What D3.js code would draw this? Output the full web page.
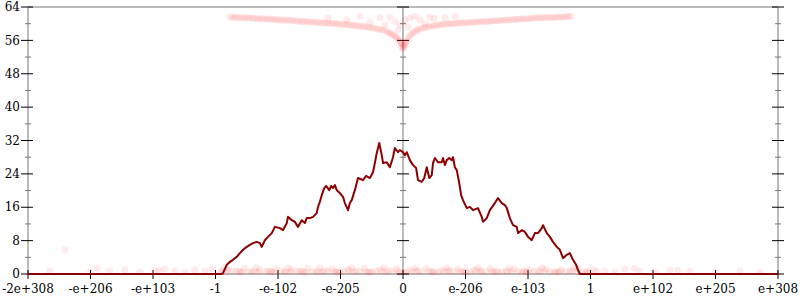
<!DOCTYPE html>
<html>
<head>
<meta charset="utf-8">
<script src="https://cdn.jsdelivr.net/npm/d3@7"></script>
<style>
  body { margin: 0; background: #fff; }
  text { font-family: "DejaVu Serif", serif; font-size: 12px; fill: #000; }
  .frame { stroke: #bbb; stroke-width: 2; fill: none; }
  .major { stroke: #000; stroke-width: 1; }
  .minor { stroke: #777; stroke-width: 1; }
  .line { fill: none; stroke: #8b0000; stroke-width: 2; stroke-linejoin: round; }
  .dot { fill: red; fill-opacity: 0.08; stroke: none; }
</style>
</head>
<body>
<div id="chart-container"></div>
<script>
// x positions are in ordered-float units: -6 (-2e+308) .. 0 .. 6 (e+308)
const xLabels = ["-2e+308", "-e+206", "-e+103", "-1", "-e-102", "-e-205", "0",
                 "e-206", "e-103", "1", "e+102", "e+205", "e+308"]
const xTicks = [-6, -5, -4, -3, -2, -1, 0, 1, 2, 3, 4, 5, 6]
const yTicks = [0, 8, 16, 24, 32, 40, 48, 56, 64]
const yMinor = [4, 12, 20, 28, 36, 44, 52, 60]

// histogram line
const histX = [-6, -2.9, -2.88, -2.82, -2.77, -2.72, -2.66, -2.61, -2.56, -2.5, -2.45, -2.4, -2.34, -2.29,
  -2.26, -2.21, -2.16, -2.1, -2.05, -1.97, -1.92, -1.86, -1.84, -1.78, -1.73, -1.68, -1.62, -1.57,
  -1.54, -1.49, -1.44, -1.38, -1.36, -1.33, -1.3, -1.26, -1.23, -1.18, -1.15, -1.12, -1.09, -1.06,
  -1.01, -0.96, -0.93, -0.88, -0.85, -0.82, -0.77, -0.72, -0.64, -0.59, -0.53, -0.48, -0.45, -0.42,
  -0.38, -0.34, -0.32, -0.26, -0.21, -0.16, -0.13, -0.08, -0.05, 0,
  0.03, 0.06, 0.11, 0.16, 0.21, 0.24, 0.3, 0.34, 0.38, 0.42, 0.46, 0.48, 0.51, 0.56, 0.62, 0.64,
  0.67, 0.7, 0.74, 0.78, 0.8, 0.83, 0.86, 0.9, 0.93, 0.96, 1.02, 1.07, 1.12, 1.2, 1.26, 1.28, 1.34,
  1.39, 1.47, 1.52, 1.58, 1.63, 1.66, 1.71, 1.76, 1.82, 1.84, 1.9, 1.95, 2.0, 2.06, 2.11, 2.16,
  2.22, 2.24, 2.3, 2.35, 2.4, 2.46, 2.51, 2.56, 2.62, 2.67, 2.72, 2.77, 2.8, 2.83, 6]
const histY = [0, 0, 0.2, 2.2, 2.9, 3.4, 4.1, 5.0, 5.8, 6.5, 7.0, 7.4, 7.7, 7.4,
  6.5, 8.1, 8.9, 9.8, 11.3, 11.0, 10.5, 12.2, 13.7, 12.9, 12.5, 11.3, 12.9, 12.2,
  13.4, 13.4, 13.7, 14.6, 16.1, 17.3, 18.9, 20.6, 21.1, 20.1, 21.1, 20.6, 21.3, 20.1,
  19.4, 18.5, 17.0, 15.3, 17.0, 17.7, 20.1, 23.0, 22.5, 23.5, 23.0, 24.4, 26.6, 29.0,
  31.4, 28.5, 26.6, 26.8, 25.6, 28.0, 30.2, 29.2, 29.7, 29.2,
  28.5, 29.2, 27.3, 26.1, 25.4, 22.5, 22.1, 23.0, 25.6, 23.0, 23.7, 26.6, 27.8, 26.8, 26.8, 27.8,
  26.1, 27.3, 27.8, 27.3, 28.0, 25.6, 24.9, 21.8, 18.9, 17.7, 15.8, 16.1, 15.3, 15.8, 13.7, 12.5, 13.4,
  15.3, 17.0, 18.2, 17.0, 16.5, 15.8, 13.4, 11.7, 11.3, 9.8, 10.5, 10.1, 8.9, 8.1, 9.8,
  9.8, 11.0, 11.7, 9.8, 8.9, 7.7, 6.5, 5.8, 3.8, 4.6, 5.0, 3.4, 2.2, 1.0, 0, 0]

// faint scatter: upper V-shaped band
const topX = [-2.77, -2.69, -2.61, -2.53, -2.45, -2.37, -2.29, -2.21, -2.13, -2.05, -1.97, -1.89,
  -1.81, -1.73, -1.65, -1.57, -1.49, -1.41, -1.33, -1.25, -1.17, -1.09, -1.01, -0.93, -0.85,
  -0.77, -0.69, -0.61, -0.53, -0.45, -0.37, -0.29, -0.22, -0.16, -0.11, -0.06, -0.03, 0,
  0.03, 0.06, 0.11, 0.16, 0.22, 0.29, 0.37, 0.45, 0.53, 0.61, 0.69, 0.77, 0.85, 0.93, 1.01,
  1.09, 1.17, 1.25, 1.33, 1.41, 1.49, 1.57, 1.65, 1.73, 1.81, 1.89, 1.97, 2.05, 2.13, 2.21,
  2.29, 2.37, 2.45, 2.53, 2.61, 2.69,
  -2.73, -2.65, -2.57, -2.49, -2.41, -2.33, -2.25, -2.17, -2.09, -2.01, -1.93, -1.85, -1.77,
  -1.69, -1.61, -1.53, -1.45, -1.37, -1.29, -1.21, -1.13, -1.05, -0.97, -0.89, -0.81, -0.73,
  -0.65, -0.57, -0.49, -0.41, -0.33, -0.25, -0.19, -0.13, -0.08, -0.04,
  0.04, 0.08, 0.13, 0.19, 0.25, 0.33, 0.41, 0.49, 0.57, 0.65, 0.73, 0.81, 0.89, 0.97, 1.05,
  1.13, 1.21, 1.29, 1.37, 1.45, 1.53, 1.61, 1.69, 1.77, 1.85, 1.93, 2.01, 2.09, 2.17, 2.25,
  2.33, 2.41, 2.49, 2.57, 2.65,
  -0.53, -0.37, -0.21, -0.13, -0.05, 0.03, 0.11, 0.19, 0.27, 0.43, 0.67, -0.29, 0.08, -0.08,
  -0.69, 0.83, -0.02, 0.01, -0.01, 0.02, -1.2, -0.9, 0.5, 0.35]
const topY = [61.6, 61.6, 61.5, 61.4, 61.4, 61.3, 61.2, 61.1, 61.1, 61.0, 60.9, 60.9,
  60.8, 60.7, 60.6, 60.5, 60.4, 60.4, 60.3, 60.2, 60.1, 60.0, 59.9, 59.8, 59.7,
  59.6, 59.4, 59.3, 59.1, 58.9, 58.6, 58.3, 57.8, 57.3, 56.8, 56.0, 55.3, 54.5,
  55.0, 55.9, 57.0, 57.8, 58.4, 58.8, 59.1, 59.4, 59.6, 59.8, 59.9, 60.0, 60.1, 60.2, 60.2,
  60.3, 60.4, 60.5, 60.5, 60.6, 60.7, 60.8, 60.9, 60.9, 61.0, 61.1, 61.2, 61.3, 61.4, 61.4,
  61.5, 61.5, 61.6, 61.6, 61.7, 61.7,
  61.5, 61.5, 61.4, 61.4, 61.3, 61.2, 61.2, 61.1, 61.0, 61.0, 60.9, 60.8, 60.8,
  60.6, 60.5, 60.5, 60.4, 60.3, 60.2, 60.1, 60.1, 60.0, 59.8, 59.8, 59.6, 59.5,
  59.3, 59.2, 59.0, 58.7, 58.5, 58.0, 57.6, 57.0, 56.4, 55.6,
  55.4, 56.4, 57.4, 58.1, 58.6, 59.0, 59.3, 59.5, 59.7, 59.9, 60.0, 60.0, 60.2, 60.2, 60.3,
  60.4, 60.4, 60.5, 60.6, 60.7, 60.7, 60.8, 60.9, 61.0, 61.1, 61.1, 61.2, 61.3, 61.4, 61.4,
  61.5, 61.5, 61.6, 61.6, 61.7,
  60.4, 61.4, 61.6, 60.4, 59.7, 60.9, 61.4, 61.8, 60.9, 61.6, 61.4, 59.7, 59.2, 58.5,
  61.8, 61.8, 54.2, 54.0, 55.0, 54.8, 61.3, 60.9, 61.3, 60.0]

// faint scatter: lower band just above zero
const lowX = [-5.65, -5.41, -5.01, -4.69, -4.45, -4.21, -3.97, -3.81, -3.65, -3.49, -3.33, -3.17,
  -3.06, -2.93, -2.8, -2.67, -2.54, -2.42, -2.29, -2.16, -2.03, -1.9, -1.78, -1.65, -1.52,
  -1.39, -1.26, -1.14, -1.01, -0.88, -0.75, -0.62, -0.5, -0.37, -0.24, -0.11, 0, 0.11, 0.24,
  0.37, 0.5, 0.62, 0.75, 0.88, 1.01, 1.14, 1.26, 1.39, 1.52, 1.65, 1.78, 1.9, 2.03, 2.16,
  2.29, 2.42, 2.54, 2.67, 2.8, 2.93, 3.06, 3.23, 3.39, 3.55, 3.79, 4.03, 4.27, 4.59, 4.99, 5.39, 5.71,
  -2.86, -2.6, -2.35, -2.1, -1.84, -1.59, -1.33, -1.07, -0.82, -0.56, -0.3, -0.05, 0.2, 0.45,
  0.7, 0.95, 1.2, 1.45, 1.7, 1.96, 2.22, 2.48, 2.74, 2.99, -4.9, -3.9, 3.7, 4.4,
  -2.9, -2.83, -2.74, -2.63, -2.57, -2.47, -2.38, -2.31, -2.2, -2.12, -2.06, -1.95, -1.87,
  -1.8, -1.7, -1.62, -1.55, -1.45, -1.36, -1.29, -1.2, -1.1, -1.04, -0.95, -0.86, -0.79,
  -0.69, -0.6, -0.53, -0.43, -0.34, -0.27, -0.17, -0.08, 0.05, 0.14, 0.21, 0.3, 0.41, 0.48,
  0.57, 0.66, 0.73, 0.83, 0.92, 0.99, 1.08, 1.17, 1.24, 1.33, 1.42, 1.49, 1.58, 1.67, 1.74,
  1.84, 1.93, 1.99, 2.09, 2.19, 2.26, 2.35, 2.44, 2.51, 2.6, 2.7, 2.78, 2.86, 2.95, 3.1]
const lowY = [0.7, 5.8, 0.5, 0.7, 1.0, 0.5, 0.7, 1.2, 0.7, 0.5, 1.0, 0.7,
  1.2, 0.5, 1.0, 0.7, 1.4, 0.5, 1.0, 0.7, 1.2, 0.5, 1.0, 0.7, 1.4,
  0.5, 0.7, 1.2, 0.5, 1.0, 0.7, 1.4, 0.5, 1.0, 0.7, 1.2, 0.5, 1.0, 0.7,
  1.4, 0.5, 1.0, 0.7, 1.2, 0.5, 1.0, 0.7, 1.4, 0.5, 0.7, 1.2, 0.5, 1.0, 0.7,
  1.2, 0.5, 1.0, 0.7, 1.4, 0.5, 1.0, 0.7, 0.5, 1.2, 0.7, 0.5, 1.0, 0.7, 0.5, 0.7, 0.5,
  1.5, 0.4, 1.5, 0.4, 1.5, 0.4, 1.5, 0.4, 1.5, 0.4, 1.5, 0.4, 1.5, 0.4,
  1.5, 0.4, 1.5, 0.4, 1.5, 0.4, 1.5, 0.4, 1.5, 0.4, 1.4, 0.9, 1.3, 0.9,
  0.6, 0.5, 0.7, 0.6, 0.5, 0.6, 0.7, 0.5, 0.6, 0.6, 0.5, 0.7, 0.6,
  0.5, 0.6, 0.7, 0.5, 0.6, 0.6, 0.5, 0.7, 0.6, 0.5, 0.6, 0.7, 0.5,
  0.6, 0.6, 0.5, 0.7, 0.6, 0.5, 0.6, 0.7, 0.5, 0.6, 0.6, 0.5, 0.7, 0.6,
  0.5, 0.6, 0.7, 0.5, 0.6, 0.6, 0.5, 0.7, 0.6, 0.5, 0.6, 0.7, 0.5, 0.6, 0.6,
  0.5, 0.7, 0.6, 0.5, 0.6, 0.7, 0.5, 0.6, 0.6, 0.5, 0.7, 0.6, 0.5, 0.6, 0.5, 0.6]

const margin = {top: 7, right: 22, bottom: 26, left: 28}
const width = 800 - margin.left - margin.right
const height = 300 - margin.top - margin.bottom

const svg = d3.select('#chart-container')
  .append('svg')
  .attr('width', 800)
  .attr('height', 300)
  .append('g')
  .attr('transform', `translate(${margin.left}, ${margin.top})`)

const x = d3.scaleLinear().domain([-6, 6]).range([0, width])
const y = d3.scaleLinear().domain([0, 64]).range([height, 0])

// frame: top line, baseline, left / center / right verticals
svg.append('line').attr('class', 'frame')
  .attr('x1', x(-6)).attr('x2', x(6)).attr('y1', y(64)).attr('y2', y(64))
svg.append('line').attr('class', 'frame')
  .attr('x1', x(-6)).attr('x2', x(6)).attr('y1', y(0)).attr('y2', y(0))
;[-6, 0, 6].forEach(v => {
  svg.append('line').attr('class', 'frame')
    .attr('x1', x(v)).attr('x2', x(v)).attr('y1', y(0)).attr('y2', y(64))
})

// vertical-axis ticks
const vx = [{v: -6, l: 7, r: 5}, {v: 0, l: 6, r: 6}, {v: 6, l: 6, r: 6}]
vx.forEach(a => {
  svg.append('g').selectAll('line.major').data(yTicks).join('line')
    .attr('class', 'major')
    .attr('x1', x(a.v) - a.l).attr('x2', x(a.v) + a.r)
    .attr('y1', d => y(d)).attr('y2', d => y(d))
  svg.append('g').selectAll('line.minor').data(yMinor).join('line')
    .attr('class', 'minor')
    .attr('x1', x(a.v) - 3).attr('x2', x(a.v) + 3)
    .attr('y1', d => y(d)).attr('y2', d => y(d))
})

svg.append('g').selectAll('text').data(yTicks).join('text')
  .attr('x', x(-6) - 8).attr('y', d => y(d))
  .attr('dy', '0.35em')
  .attr('text-anchor', 'end')
  .text(d => d)

// x ticks cross the baseline
svg.append('g').selectAll('line').data(xTicks).join('line')
  .attr('class', 'major')
  .attr('x1', d => x(d)).attr('x2', d => x(d))
  .attr('y1', y(0) - 4).attr('y2', y(0) + 5)

svg.append('g').selectAll('text').data(xTicks).join('text')
  .attr('x', d => x(d)).attr('y', y(0) + 19)
  .attr('text-anchor', 'middle')
  .text((d, i) => xLabels[i])

// faint scatter
const dots = topX.map((d, i) => [d, topY[i]]).concat(lowX.map((d, i) => [d, lowY[i]]))
svg.append('g').selectAll('circle').data(dots).join('circle')
  .attr('class', 'dot')
  .attr('cx', d => x(d[0]))
  .attr('cy', d => y(d[1]))
  .attr('r', 3.5)

// histogram line
const line = d3.line()
  .x(d => x(d[0]))
  .y(d => y(d[1]))

svg.append('path')
  .datum(histX.map((d, i) => [d, histY[i]]))
  .attr('class', 'line')
  .attr('d', line)
</script>
</body>
</html>
